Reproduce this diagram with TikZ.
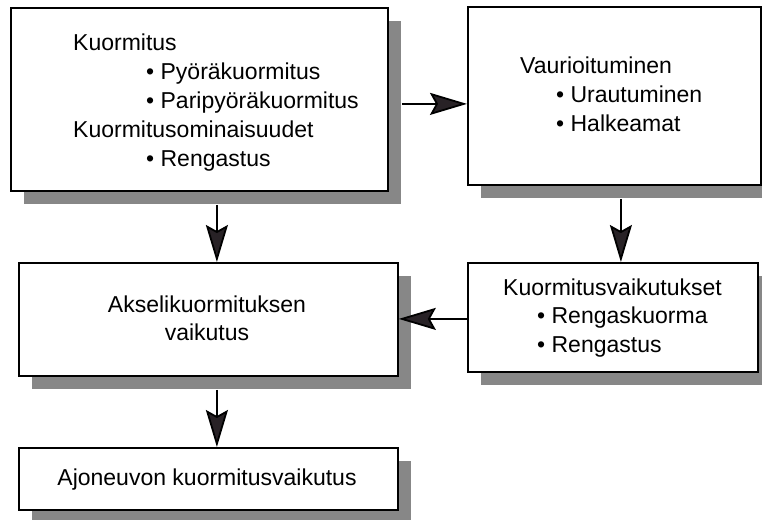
\documentclass[tikz,border=0pt]{standalone}
\usepackage{fontspec}
\setmainfont{Liberation Sans}
\usetikzlibrary{shadows,arrows.meta}
\definecolor{shadowgray}{RGB}{135,135,135}
\definecolor{tipgray}{RGB}{40,34,38}
\tikzset{
  box/.style={draw=black, line width=1.8pt, fill=white, anchor=north west, inner sep=0pt,
    drop shadow={shadow xshift=13pt, shadow yshift=-13pt, fill=shadowgray, opacity=1}},
  txt/.style={anchor=base west, inner sep=0pt, font=\fontsize{23}{28}\selectfont},
  ctxt/.style={anchor=base, inner sep=0pt, font=\fontsize{23}{28}\selectfont},
  arr/.style={line width=1.8pt, draw=black, -{Stealth[length=37pt, width=22pt, inset=6pt, fill=tipgray]}}
}
\begin{document}
\begin{tikzpicture}[x=1pt, y=-1pt]
\useasboundingbox (0,0) rectangle (762,519);
% boxes
\node[box, minimum width=377pt, minimum height=183pt] (b1) at (10,7) {};
\node[box, minimum width=293pt, minimum height=178pt] (b2) at (467,6) {};
\node[box, minimum width=379pt, minimum height=113pt] (b3) at (18,262) {};
\node[box, minimum width=290pt, minimum height=109pt] (b5) at (467,262) {};
\node[box, minimum width=379pt, minimum height=62pt] (b4) at (18,447) {};
% box 1 text
\node[txt] (t11) at (73,50) {Kuormitus};
\node[txt] (t12) at (146,79) {•\ Pyöräkuormitus};
\node[txt] (t13) at (146,108) {•\ Paripyöräkuormitus};
\node[txt] (t14) at (73,137) {Kuormitusominaisuudet};
\node[txt] (t15) at (146,166) {•\ Rengastus};
% box 2 text
\node[txt] (t21) at (520,73) {Vaurioituminen};
\node[txt] (t22) at (556,102) {•\ Urautuminen};
\node[txt] (t23) at (556,131) {•\ Halkeamat};
% box 3 text
\node[ctxt] (t31) at (207,312) {Akselikuormituksen};
\node[ctxt] (t32) at (207,340) {vaikutus};
% box 5 text
\node[txt] (t51) at (503,295) {Kuormitusvaikutukset};
\node[txt] (t52) at (537,323) {•\ Rengaskuorma};
\node[txt] (t53) at (537,352) {•\ Rengastus};
% box 4 text
\node[ctxt] (t41) at (207,485) {Ajoneuvon kuormitusvaikutus};
% connectors
\draw[arr] ([xshift=17.5pt,yshift=-13pt]b1.south) -- ([xshift=17.5pt]b1.south |- b3.north);
\draw[arr] ([xshift=8.5pt,yshift=-13pt]b3.south) -- ([xshift=8.5pt]b3.south |- b4.north);
\draw[arr] ([xshift=6.5pt,yshift=-13pt]b2.south) -- ([xshift=6.5pt]b2.south |- b5.north);
\draw[arr] ([xshift=13pt,yshift=-4.5pt]b1.east) -- ([yshift=-4.5pt]b1.east -| b2.west);
\draw[arr] ([yshift=-1.5pt]b5.west) -- ([yshift=-1.5pt]b5.west -| b3.east);
\end{tikzpicture}
\end{document}
